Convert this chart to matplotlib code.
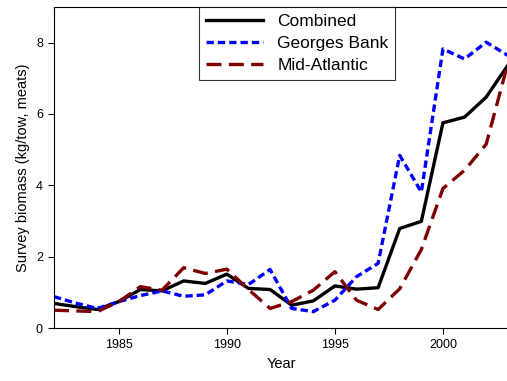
import matplotlib
matplotlib.use("Agg")
import matplotlib.pyplot as plt

plt.rcParams['font.family'] = ['Liberation Sans', 'DejaVu Sans']

years = list(range(1982, 2004))
combined = [0.69, 0.60, 0.52, 0.74, 1.08, 1.04, 1.32, 1.25, 1.51, 1.11, 1.08, 0.64,
            0.76, 1.18, 1.09, 1.13, 2.79, 2.99, 5.75, 5.91, 6.47, 7.36]
georges_bank = [0.88, 0.70, 0.55, 0.74, 0.91, 1.04, 0.89, 0.93, 1.32, 1.22, 1.64, 0.55,
                0.46, 0.78, 1.44, 1.81, 4.84, 3.81, 7.82, 7.54, 8.01, 7.64]
mid_atlantic = [0.50, 0.48, 0.46, 0.74, 1.16, 1.06, 1.69, 1.53, 1.65, 1.08, 0.55, 0.74,
                1.06, 1.58, 0.78, 0.52, 1.10, 2.20, 3.91, 4.42, 5.15, 7.40]

fig = plt.figure(figsize=(5.07, 3.81), dpi=100)
ax = fig.add_axes([0.1065, 0.139, 0.895, 0.843])

ax.plot(years, combined, color='black', lw=2.4, label='Combined')
ax.plot(years, georges_bank, color='#0000ff', lw=2.4, dashes=(2.2, 1.2), label='Georges Bank')
ax.plot(years, mid_atlantic, color='#800000', lw=2.4, dashes=(4.5, 2.2), label='Mid-Atlantic')

ax.set_xlim(1982, 2003)
ax.set_ylim(0, 9)
ax.set_xticks([1985, 1990, 1995, 2000])
ax.set_yticks([0, 2, 4, 6, 8])
ax.tick_params(direction='out', length=4, width=0.8, labelsize=9, pad=4)
for s in ax.spines.values():
    s.set_linewidth(0.8)

ax.set_xlabel('Year', fontsize=10.5)
ax.set_ylabel('Survey biomass (kg/tow, meats)', fontsize=10.5)

leg = ax.legend(loc='upper center', bbox_to_anchor=(0.536, 1.0), fontsize=12.5,
                frameon=True, fancybox=False, handlelength=3.3, borderpad=0.38,
                labelspacing=0.42, handletextpad=0.8, borderaxespad=0)
leg.get_frame().set_edgecolor('black')
leg.get_frame().set_linewidth(0.8)

fig.savefig('out.png', dpi=100)
